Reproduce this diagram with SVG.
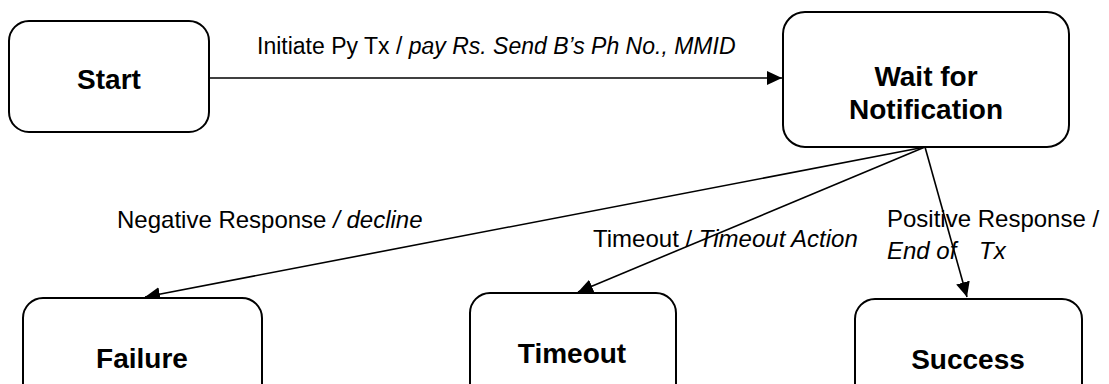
<svg xmlns="http://www.w3.org/2000/svg" width="1109" height="384" viewBox="0 0 1109 384">
<style>
.box{fill:#fff;stroke:#000;stroke-width:2}
.nt{font-family:"Liberation Sans",Arial,sans-serif;font-weight:bold;font-size:28px;text-anchor:middle;fill:#000}
.lb{font-family:"Liberation Sans",Arial,sans-serif;font-size:24px;fill:#000}
.it{font-style:italic}
.cn{stroke:#000;stroke-width:1.6;fill:none;marker-end:url(#ah)}
</style>
<defs>
<marker id="ah" markerUnits="userSpaceOnUse" markerWidth="15" markerHeight="14" viewBox="0 0 15 14" refX="15" refY="7" orient="auto">
<path d="M0,0 L15,7 L0,14 Z" fill="#000"/>
</marker>
</defs>
<rect width="1109" height="384" fill="#fff"/>
<g id="connectors">
<line class="cn" x1="198" y1="78" x2="782" y2="78"/>
<line class="cn" x1="925" y1="147" x2="145" y2="297"/>
<line class="cn" x1="925" y1="147" x2="578" y2="292"/>
<line class="cn" x1="925" y1="147" x2="967" y2="297"/>
</g>
<g id="node-start">
<rect class="box" x="9" y="21" width="200" height="111" rx="20"/>
<text class="nt" x="109" y="89">Start</text>
</g>
<g id="node-wait">
<rect class="box" x="783" y="12" width="286" height="135" rx="22"/>
<text class="nt" x="926" y="86">Wait for</text>
<text class="nt" x="926" y="119">Notification</text>
</g>
<g id="node-failure">
<rect class="box" x="23" y="298" width="239" height="111" rx="20"/>
<text class="nt" x="142" y="368">Failure</text>
</g>
<g id="node-timeout">
<rect class="box" x="470" y="293" width="206" height="111" rx="20"/>
<text class="nt" x="572" y="363">Timeout</text>
</g>
<g id="node-success">
<rect class="box" x="855" y="299" width="227" height="111" rx="20"/>
<text class="nt" x="968" y="369">Success</text>
</g>
<g id="labels">
<text class="lb" x="257" y="54" style="font-size:23px">Initiate Py Tx / <tspan class="it">pay Rs. Send B’s Ph No., MMID</tspan></text>
<text class="lb" x="117" y="228">Negative Response <tspan class="it">/ decline</tspan></text>
<text class="lb" x="593" y="247">Timeout / <tspan class="it">Timeout Action</tspan></text>
<text class="lb" x="887" y="227">Positive Response /</text>
<text class="lb it" x="887" y="259">End of</text>
<text class="lb it" x="979" y="259">Tx</text>
</g>
</svg>
